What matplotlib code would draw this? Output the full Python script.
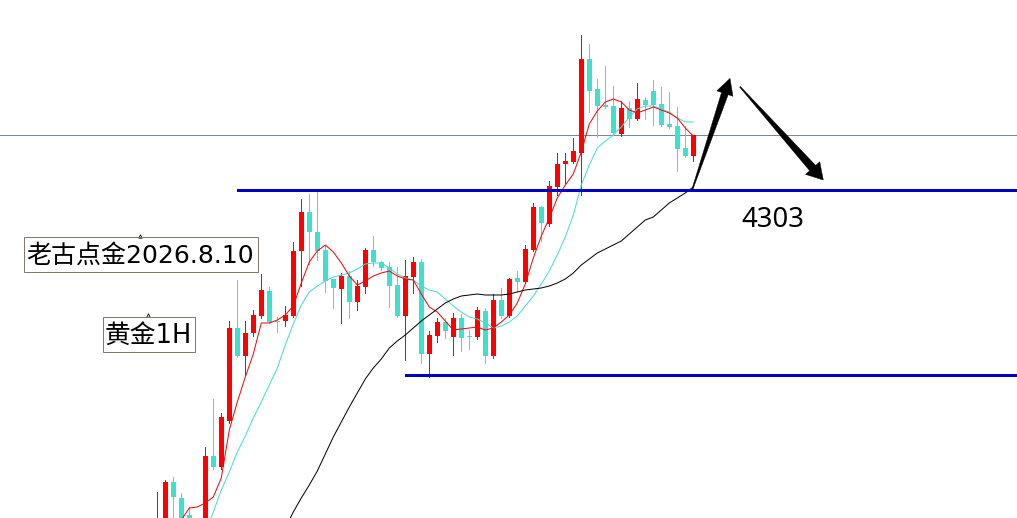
import numpy as np
import matplotlib
matplotlib.use("Agg")
import matplotlib.pyplot as plt
from matplotlib.patches import Polygon, Rectangle
from matplotlib.transforms import IdentityTransform

nan = np.nan

# ---------------- data (gold, 1H) ----------------
opens = [4128, 4135.5, 4157, 4149, 4140.5, 4130.5, 4133, 4170, 4164.5, 4187.5,
         4234, 4220, 4231.5, 4240, 4252.5, 4237.5, 4237.5, 4240, 4272.5, 4292,
         4282, 4273, 4258.5, 4253.5, 4260, 4247, 4254.5, 4273, 4267, 4264.5,
         4255.5, 4240, 4259.5, 4267, 4221, 4230, 4237, 4229.5, 4239, 4230,
         4229.5, 4242.5, 4220, 4248, 4240, 4259, 4257, 4273, 4294.5, 4286,
         4304.5, 4316, 4317, 4321.5, 4368.5, 4353.5, 4345.5, 4345, 4331, 4344,
         4338.5, 4348, 4352.5, 4346, 4336, 4335, 4324, 4320]
highs = [4152, 4158, 4159.5, 4151.5, 4144.5, 4138, 4174.5, 4198.5, 4191.5, 4237.5,
         4258, 4237.5, 4243, 4261, 4254.5, 4239.5, 4245, 4277, 4298.5, 4301,
         4302.5, 4275.5, 4258.5, 4261.5, 4262.5, 4258, 4274, 4280, 4267.5, 4267,
         4264.5, 4268, 4269.5, 4268.5, 4232.5, 4239, 4239, 4241.5, 4241, 4233,
         4244.5, 4244, 4251, 4254, 4259, 4262.5, 4275.5, 4296.5, 4295, 4307.5,
         4321.5, 4321.5, 4329, 4380.5, 4376, 4358.5, 4365, 4355, 4347.5, 4347.5,
         4356.5, 4349.5, 4358, 4354.5, 4352, 4344.5, 4335, 4330.5]
lows = [4125.5, 4133, 4135.5, 4130.5, 4133, 4128, 4130.5, 4163.5, 4163.5, 4186.5,
        4219.5, 4210.5, 4230, 4239, 4236.5, 4232, 4235, 4239.5, 4255, 4266,
        4268, 4252, 4244, 4236.5, 4239, 4243, 4251.5, 4265, 4263, 4244.5,
        4239.5, 4218, 4251.5, 4216.5, 4209.5, 4227, 4229, 4220.5, 4222.5, 4223.5,
        4228.5, 4216.5, 4219, 4239, 4239.5, 4252.5, 4256.5, 4272.5, 4277.5, 4285,
        4300.5, 4306.5, 4316.5, 4300.5, 4342, 4329.5, 4344, 4330.5, 4330, 4334.5,
        4338, 4338.5, 4335.5, 4335, 4334, 4312.5, 4319.5, 4317.5]
closes = [4138, 4157, 4149.5, 4135.5, 4135.5, 4137, 4170, 4164.5, 4189.5, 4234,
          4220, 4231.5, 4240.5, 4253, 4237, 4237, 4240.5, 4272.5, 4292, 4282,
          4272.5, 4257.5, 4254, 4260, 4247, 4255, 4273, 4267, 4264, 4255,
          4240, 4260, 4267, 4221, 4230.5, 4237, 4232.5, 4239, 4229, 4229.5,
          4243, 4220, 4248, 4240, 4258.5, 4257, 4273.5, 4294.5, 4286.5, 4305,
          4316, 4317.5, 4322.5, 4368.5, 4352.5, 4345, 4344.5, 4331.5, 4344, 4338.5,
          4348.5, 4345.5, 4345.5, 4335.5, 4334.5, 4323.5, 4320, 4330.5]

ma_fast = [nan, nan, nan, 4138, 4144, 4144.5, 4146.5, 4149.5, 4159, 4183,
           4197, 4209.5, 4221, 4236.5, 4236.5, 4238, 4240.5, 4245, 4256.5, 4267,
           4272.5, 4275.5, 4272, 4266.5, 4260, 4255.5, 4257.5, 4260, 4261.5, 4262.5,
           4260, 4258.5, 4258, 4251, 4244.5, 4242, 4237.5, 4233, 4233.5, 4234,
           4234.5, 4233, 4234, 4237, 4240.5, 4246.5, 4256, 4269, 4280, 4289,
           4299, 4305.5, 4311, 4322, 4336, 4342.5, 4347, 4348.5, 4347, 4343,
           4341.5, 4343, 4344.5, 4343, 4341.5, 4339, 4334, 4330]
ma_mid = [nan, nan, nan, nan, nan, nan, 4132, 4142, 4153, 4162,
          4172, 4180, 4189, 4197, 4205.5, 4214, 4225.5, 4236, 4245.5, 4252,
          4255, 4257.5, 4259.5, 4260.5, 4261.5, 4263.5, 4266, 4266.5, 4266.5, 4264,
          4261, 4259, 4258, 4255, 4253, 4252, 4248.5, 4245, 4242, 4239.5,
          4238.5, 4236.5, 4234, 4235, 4237, 4240, 4245, 4250, 4256, 4262.5,
          4270.5, 4279.5, 4290.5, 4305.5, 4315.5, 4324, 4327.5, 4330.5, 4334.5, 4339.5,
          4343.5, 4345, 4345, 4343.5, 4342, 4339, 4337, 4337]
ma_slow = [nan] * 16 + [4134, 4142, 4149, 4155.5, 4162.5, 4171, 4179.5, 4187, 4194.5, 4201.5,
                        4208.5, 4214, 4218.5, 4224, 4227.5, 4230.5, 4234, 4237.5, 4240.5, 4243.5,
                        4246.5, 4248.5, 4250, 4250.5, 4251, 4250.5, 4250.5, 4250.5, 4251, 4252,
                        4253, 4253.5, 4254, 4255, 4256.5, 4258.5, 4261.5, 4265.5, 4268.5, 4271.5,
                        4273.5, 4275.5, 4277.5, 4281, 4284.5, 4288, 4289.5, 4293, 4296.5, 4299,
                        4301.5, 4304.5]

resistance = 4303.0
resistance_start = 10
support = 4210.5
support_start = 31
bid_price = 4330.5

title_text = "老古点金2026.8.10"
symbol_text = "黄金1H"
level_text = "4303"

# ---------------- figure ----------------
W, H = 1017, 518
fig = plt.figure(figsize=(W / 100, H / 100), dpi=100)
fig.patch.set_facecolor("white")
ax = fig.add_axes([0, 0, 1, 1])
ax.set_axis_off()
ax.set_xlim(-157.3 / 8, (W - 157.3) / 8)
ax.set_ylim(4139, 4398)

UP = "#ff0000"
DOWN = "#40e0d0"
px = 0.72  # one pixel in points

x = np.arange(len(opens))
o = np.array(opens); c = np.array(closes); h = np.array(highs); l = np.array(lows)
up = c >= o
cols = np.where(up, UP, DOWN)

# reference lines
ax.axhline(bid_price, color="#778899", lw=px, zorder=1, antialiased=False)
ax.hlines(resistance, resistance_start, 200, color="#0000cd", lw=3 * px, zorder=5, antialiased=False)
ax.hlines(support, support_start, 200, color="#0000cd", lw=3 * px, zorder=5, antialiased=False)

# candles
ax.vlines(x, l, h, colors=cols, lw=1.0 * px, zorder=2, antialiased=False)
body_h = np.maximum(np.abs(c - o), 0.5)
ax.bar(x, body_h, bottom=np.minimum(o, c), width=0.64, color=cols, zorder=3,
       linewidth=0, antialiased=False)

# moving averages
ax.plot(x, ma_mid, color="#40e0d0", lw=1.0 * px, zorder=4)
ax.plot(x, ma_fast, color="#ff0000", lw=1.0 * px, zorder=4)
ax.plot(x, ma_slow, color="#000000", lw=1.0 * px, zorder=4)


def tapered_arrow(start, tip, w0, w1, head_len, head_w):
    fig.canvas.draw()
    p0 = ax.transData.transform(start)
    p1 = ax.transData.transform(tip)
    d = p1 - p0
    u = d / np.hypot(*d)
    n = np.array([-u[1], u[0]])
    base = p1 - u * head_len
    pts = [p0 + n * w0 / 2, base + n * w1 / 2, base + n * head_w / 2, p1,
           base - n * head_w / 2, base - n * w1 / 2, p0 - n * w0 / 2]
    poly = Polygon(pts, closed=True, transform=IdentityTransform(),
                   facecolor="black", edgecolor="black", lw=0.3, zorder=6)
    ax.add_patch(poly)


tapered_arrow((66.9, 4303.5), (71.59, 4358.8), 1.0, 7, 16, 17)
tapered_arrow((72.84, 4354.6), (83.25, 4308.0), 1.0, 8, 16, 19)

mixed = ["DejaVu Sans", "Noto Sans CJK SC"]


def fx(p):
    return p / W


def fy(p):
    return 1 - p / H


# text boxes
fig.patches.append(Rectangle((fx(24), fy(272)), 234 / W, 35 / H, transform=fig.transFigure,
                             fill=False, edgecolor="#857869", lw=px, zorder=7))
fig.text(fx(26.5), fy(255.5), title_text, family=mixed, fontsize=18, color="black",
         ha="left", va="center", zorder=8)
fig.patches.append(Rectangle((fx(103), fy(352)), 92 / W, 35 / H, transform=fig.transFigure,
                             fill=False, edgecolor="#857869", lw=px, zorder=7))
fig.text(fx(105), fy(335.5), symbol_text, family=mixed, fontsize=18.5, color="black",
         ha="left", va="center", zorder=8)

# tiny anchor marks of the text objects
fig.add_artist(plt.Line2D([fx(140)], [fy(236)], marker="^", ms=2.5, mfc="none",
                          mec="black", mew=0.6, transform=fig.transFigure))
fig.add_artist(plt.Line2D([fx(148)], [fy(315)], marker="^", ms=2.5, mfc="none",
                          mec="black", mew=0.6, transform=fig.transFigure))

ax.text(72.95, 4288.0, level_text, family=["Noto Sans", "DejaVu Sans"], fontsize=19.8,
        color="black", ha="left", va="center", zorder=8)

fig.savefig("out.png", dpi=100, facecolor="white")
